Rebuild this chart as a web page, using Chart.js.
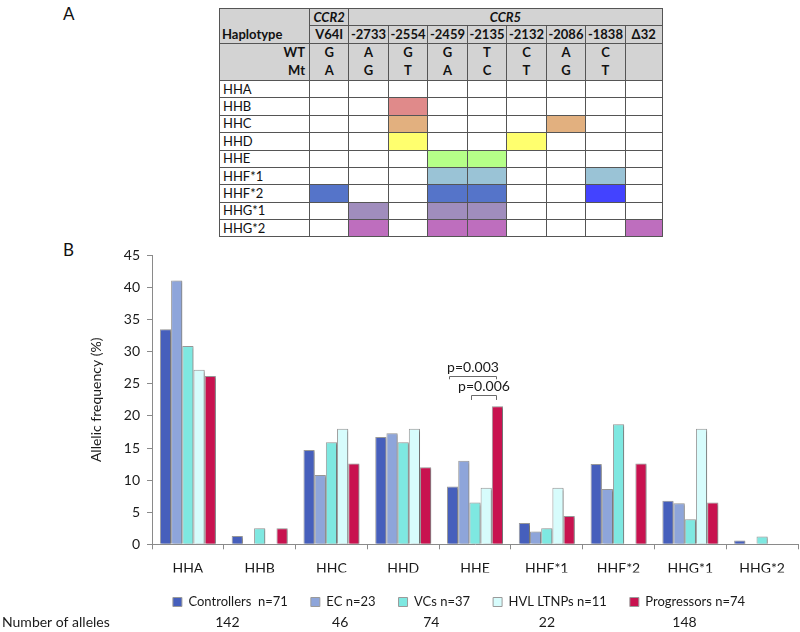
<!DOCTYPE html>
<html>
<head>
<meta charset="utf-8">
<script src="https://cdn.jsdelivr.net/npm/chart.js@4.4.1/dist/chart.umd.min.js"></script>
<style>
  html, body { margin:0; padding:0; background:#fff; }
  body { width:800px; height:632px; overflow:hidden; position:relative; font-family: Lato, "Open Sans", sans-serif; color:#111; }
  .panel { position:absolute; font-size:17px; color:#111; }
  #hap { position:absolute; left:219px; top:8px; width:443px; border-collapse:collapse; table-layout:fixed; font-size:13px; line-height:1; color:#111; }
  #hap td { border:1px solid #555; padding:0; text-align:center; vertical-align:middle; overflow:hidden; white-space:nowrap; }
  #hap tr.hdr td { background:#D3D3D3; font-weight:bold; }
  #hap td.gene { font-style:italic; }
  #hap td.hapcell { text-align:left; vertical-align:bottom; padding:0 0 2px 2px; }
  #hap tr.wt td { border-bottom:none; }
  #hap tr.mt td { border-top:none; }
  #hap td.lab { text-align:right; padding-right:4px; }
  #hap td.rowlab { text-align:left; padding-left:3px; font-weight:normal; color:#111; }
  #chartBox { position:absolute; left:0; top:240px; width:800px; height:392px; }
</style>
</head>
<body>
<div class="panel" style="left:63px; top:3px;">A</div>
<div class="panel" style="left:63px; top:239px;">B</div>
<table id="hap"></table>
<div id="chartBox"><canvas id="c"></canvas></div>
<script>
// ---------- Panel A data ----------
const snpIds = ['V64I','-2733','-2554','-2459','-2135','-2132','-2086','-1838','Δ32'];
const wtAlleles = ['G','A','G','G','T','C','A','C',''];
const mtAlleles = ['A','G','T','A','C','T','G','T',''];
const haplotypes = ['HHA','HHB','HHC','HHD','HHE','HHF*1','HHF*2','HHG*1','HHG*2'];
const haplotypeMutations = [
  [],
  ['-2554'],
  ['-2554','-2086'],
  ['-2554','-2132'],
  ['-2459','-2135'],
  ['-2459','-2135','-1838'],
  ['V64I','-2459','-2135','-1838'],
  ['-2733','-2459','-2135'],
  ['-2733','-2459','-2135','Δ32']
];
const haplotypeColors = ['#ffffff','#E08A8A','#E2B07F','#FFFF6E','#B5FF88','#9AC3D6','#5574C9','#A08DBD','#BE6EBE'];
const cellOverrides = { 'HHF*2|-1838': '#4343FF' };

// ---------- Panel B data ----------
const categories = ['HHA','HHB','HHC','HHD','HHE','HHF*1','HHF*2','HHG*1','HHG*2'];
const controllers = [33.5, 1.3, 14.7, 16.7, 9.0, 3.3, 12.5, 6.8, 0.6];
const ec          = [41.1, 0,   10.8, 17.3, 13.0, 2.0, 8.6, 6.4, 0];
const vcs         = [30.9, 2.5, 15.9, 15.9, 6.5, 2.5, 18.7, 3.9, 1.2];
const hvlLtnps    = [27.2, 0,   18.0, 18.0, 8.8, 8.8, 0,   18.0, 0];
const progressors = [26.2, 2.5, 12.6, 12.0, 21.5, 4.4, 12.6, 6.5, 0];
const groupLabels = ['Controllers  n=71','EC n=23','VCs n=37','HVL LTNPs n=11','Progressors n=74'];
const groupColors = ['#465FBC','#8EA5DA','#7EE8E1','#D7FCFC','#C8124F'];
const alleleCounts = ['142','46','74','22','148'];
const yTicks = [0,5,10,15,20,25,30,35,40,45];
const pCategory = 'HHE';
const pLabels = ['p=0.003','p=0.006'];
const pPairs = [[0,4],[2,4]];

// ---------- build table ----------
(function buildTable(){
  const t = document.getElementById('hap');
  const colW = [90,39.3,39.4,39.6,39.4,39.6,39.4,39.6,39.4,37];
  let html = '<colgroup>' + colW.map(w=>'<col style="width:'+w+'px">').join('') + '</colgroup>';
  html += '<tr class="hdr" style="height:17.3px"><td rowspan="2" class="hapcell">Haplotype</td><td class="gene">CCR2</td><td class="gene" colspan="'+(snpIds.length-1)+'">CCR5</td></tr>';
  html += '<tr class="hdr" style="height:17.4px">' + snpIds.map(s=>'<td>'+s+'</td>').join('') + '</tr>';
  html += '<tr class="hdr wt" style="height:18.6px"><td class="lab">WT</td>' + wtAlleles.map(a=>'<td>'+a+'</td>').join('') + '</tr>';
  html += '<tr class="hdr mt" style="height:18.7px"><td class="lab">Mt</td>' + mtAlleles.map(a=>'<td>'+a+'</td>').join('') + '</tr>';
  haplotypes.forEach((h,i)=>{
    html += '<tr style="height:17.4px"><td class="rowlab">'+h+'</td>';
    snpIds.forEach(s=>{
      let bg = '#ffffff';
      if (haplotypeMutations[i].includes(s)) bg = cellOverrides[h+'|'+s] || haplotypeColors[i];
      html += '<td style="background:'+bg+'"></td>';
    });
    html += '</tr>';
  });
  t.innerHTML = html;
})();

// ---------- chart ----------
const FONT = 'Lato, "Open Sans", sans-serif';
const TEXT = '#1a1a1a';
const seriesValues = [controllers, ec, vcs, hvlLtnps, progressors];

const shadowPlugin = {
  id: 'barShadow',
  afterLayout(chart) {
    chart.legend.left += 18;
    chart.legend.right += 18;
  },
  beforeDatasetsDraw(chart) {
    const ctx = chart.ctx;
    ctx.save();
    ctx.shadowColor = 'rgba(0,0,0,0.28)';
    ctx.shadowOffsetX = 2;
    ctx.shadowOffsetY = 1;
    ctx.shadowBlur = 2;
  },
  afterDatasetsDraw(chart) { chart.ctx.restore(); }
};

const annotPlugin = {
  id: 'annot',
  afterDraw(chart) {
    const ctx = chart.ctx;
    const ci = categories.indexOf(pCategory);
    let topY = Infinity;
    seriesValues.forEach((_, d) => { topY = Math.min(topY, chart.getDatasetMeta(d).data[ci].y); });
    const levels = [ {line: topY - 30.5, tick: topY - 27}, {line: topY - 10.8, tick: topY - 6.3} ];
    ctx.save();
    ctx.strokeStyle = '#6a6a6a';
    ctx.lineWidth = 1;
    ctx.fillStyle = TEXT;
    ctx.font = '14px ' + FONT;
    ctx.textAlign = 'center';
    ctx.textBaseline = 'middle';
    pPairs.forEach((pair, k) => {
      const x1 = Math.round(chart.getDatasetMeta(pair[0]).data[ci].x) - 3.5;
      const x2 = Math.round(chart.getDatasetMeta(pair[1]).data[ci].x) - 0.5;
      const ly = Math.round(levels[k].line) + 0.5;
      const ty = levels[k].tick;
      ctx.beginPath();
      ctx.moveTo(x1, ty); ctx.lineTo(x1, ly); ctx.lineTo(x2, ly); ctx.lineTo(x2, ty);
      ctx.stroke();
      ctx.fillText(pLabels[k], (x1 + x2) / 2, ly - 9.5);
    });
    const boxes = chart.legend.legendHitBoxes;
    const rowY = 382;
    ctx.textAlign = 'left';
    ctx.fillText('Number of alleles', 2, rowY);
    ctx.textAlign = 'center';
    boxes.forEach((b, i) => {
      ctx.fillText(alleleCounts[i], b.left + b.width / 2 - 3, rowY);
    });
    ctx.restore();
  }
};

new Chart(document.getElementById('c'), {
  type: 'bar',
  data: {
    labels: categories,
    datasets: seriesValues.map((vals, i) => ({
      label: groupLabels[i],
      data: vals,
      backgroundColor: groupColors[i],
      borderColor: '#9a9a9a',
      borderWidth: 1,
      categoryPercentage: 0.78,
      barPercentage: 1.0
    }))
  },
  options: {
    responsive: true,
    maintainAspectRatio: false,
    animation: false,
    devicePixelRatio: 1,
    layout: { padding: { left: 84, right: 2, top: 15, bottom: 13.5 } },
    plugins: {
      legend: {
        position: 'bottom',
        labels: {
          boxWidth: 9, boxHeight: 9, padding: 23,
          color: TEXT,
          font: { size: 13, family: FONT }
        }
      },
      tooltip: { enabled: false }
    },
    scales: {
      x: {
        grid: { drawOnChartArea: false, tickLength: 5, color: '#8a8a8a', offset: true },
        border: { color: '#8a8a8a' },
        ticks: { color: TEXT, font: { size: 14, family: FONT }, padding: 11, maxRotation: 0 },
        afterFit(s) { s.height = 28.2; }
      },
      y: {
        min: 0, max: 45,
        afterBuildTicks(s) { s.ticks = yTicks.map(v => ({ value: v })); },
        grid: { drawOnChartArea: false, tickLength: 5, color: '#8a8a8a' },
        border: { color: '#8a8a8a' },
        ticks: { color: TEXT, font: { size: 14, family: FONT }, padding: 7 },
        title: { display: true, text: 'Allelic frequency (%)', color: TEXT, font: { size: 14, family: FONT }, padding: { top: 4, bottom: 0 } },
        afterFit(s) { s.width = 68; }
      }
    }
  },
  plugins: [shadowPlugin, annotPlugin]
});
</script>
</body>
</html>
